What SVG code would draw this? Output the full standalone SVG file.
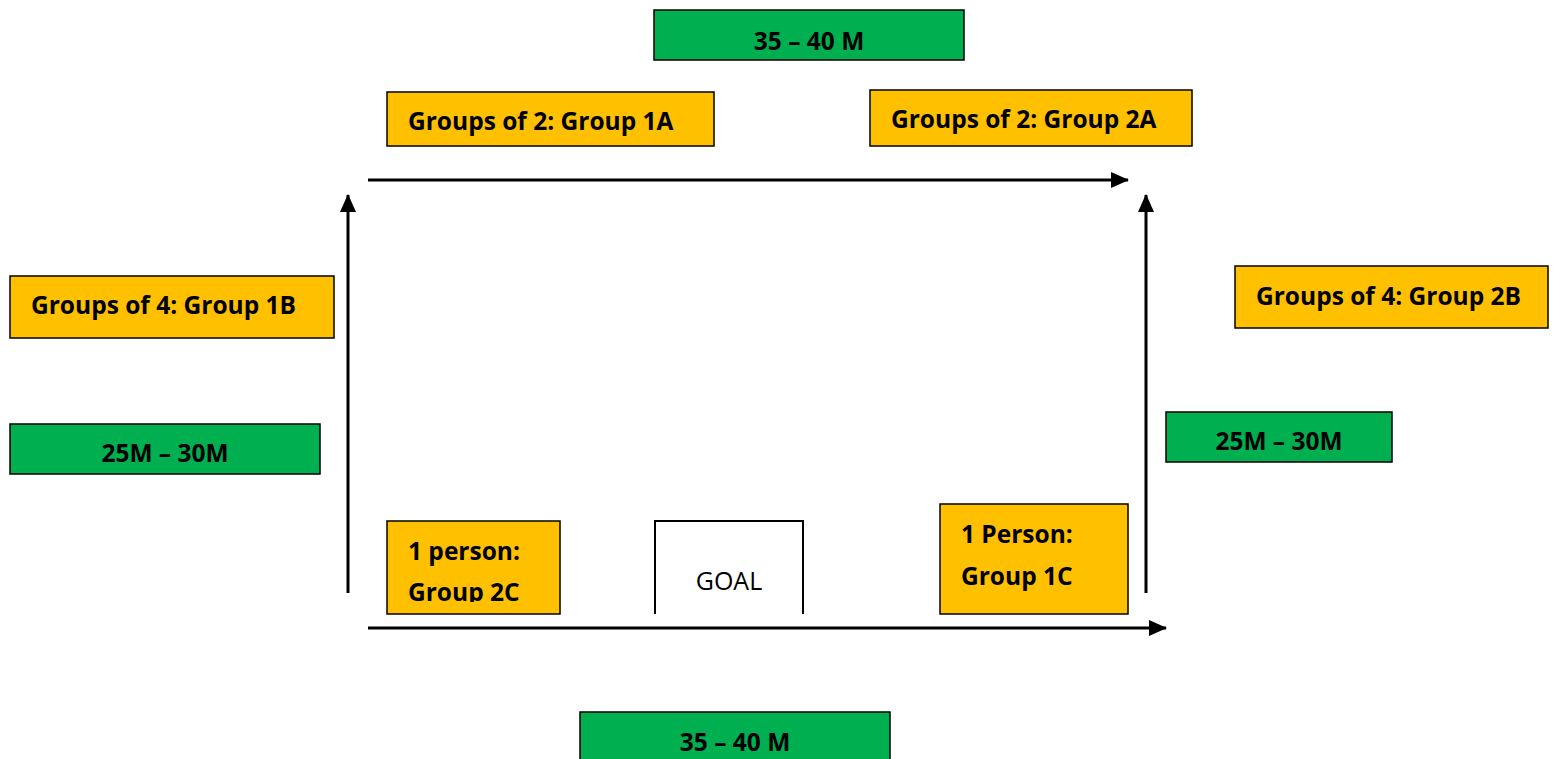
<svg xmlns="http://www.w3.org/2000/svg" width="1554" height="759" viewBox="0 0 1554 759">
<defs>
<style>
.y{fill:#FFC000;stroke:#000;stroke-width:1.5}
.g{fill:#00B050;stroke:#000;stroke-width:1.5}
.t{font-family:"Open Sans","Liberation Sans",sans-serif;font-weight:bold;font-size:24.5px;fill:#000}
.c{text-anchor:middle}
.ln{stroke:#000;stroke-width:3;fill:none}
</style>
<marker id="ah2" markerWidth="18" markerHeight="16" refX="17" refY="8" orient="auto" markerUnits="userSpaceOnUse" viewBox="0 0 18 16">
<path d="M0,0 L18,8 L0,16 Z" fill="#000"/>
</marker>
<clipPath id="c2c"><rect x="387" y="521" width="173" height="81"/></clipPath>
</defs>
<rect width="1554" height="759" fill="#fff"/>
<g id="connectors">
<line class="ln" x1="368" y1="180" x2="1128" y2="180" marker-end="url(#ah2)"/>
<line class="ln" x1="368" y1="628" x2="1166" y2="628" marker-end="url(#ah2)"/>
<line class="ln" x1="348" y1="593" x2="348" y2="195" marker-end="url(#ah2)"/>
<line class="ln" x1="1146" y1="593" x2="1146" y2="195" marker-end="url(#ah2)"/>
</g>
<g id="dist-top"><rect class="g" x="654" y="10" width="310" height="50"/><text class="t c" x="809" y="50">35 – 40 M</text></g>
<g id="group-1a"><rect class="y" x="387" y="92" width="327" height="54"/><text class="t" x="408" y="130">Groups of 2: Group 1A</text></g>
<g id="group-2a"><rect class="y" x="870" y="90" width="322" height="56"/><text class="t" x="891" y="128">Groups of 2: Group 2A</text></g>
<g id="group-1b"><rect class="y" x="10" y="276" width="324" height="62"/><text class="t" x="31" y="314">Groups of 4: Group 1B</text></g>
<g id="group-2b"><rect class="y" x="1235" y="266" width="313" height="62"/><text class="t" x="1256" y="305">Groups of 4: Group 2B</text></g>
<g id="dist-left"><rect class="g" x="10" y="424" width="310" height="50"/><text class="t c" x="165" y="462">25M – 30M</text></g>
<g id="dist-right"><rect class="g" x="1166" y="412" width="226" height="50"/><text class="t c" x="1279" y="450">25M – 30M</text></g>
<g id="group-2c"><rect class="y" x="387" y="521" width="173" height="93"/><g clip-path="url(#c2c)"><text class="t" x="408" y="560">1 person:</text><text class="t" x="408" y="601">Group 2C</text></g></g>
<g id="goal"><path d="M655,614 V521 H803 V614" fill="none" stroke="#000" stroke-width="2"/><text x="729" y="590" text-anchor="middle" font-family="Open Sans, Liberation Sans, sans-serif" font-size="25">GOAL</text></g>
<g id="group-1c"><rect class="y" x="940" y="504" width="188" height="110"/><text class="t" x="961" y="543">1 Person:</text><text class="t" x="961" y="585">Group 1C</text></g>
<g id="dist-bottom"><rect class="g" x="580" y="712" width="310" height="60"/><text class="t c" x="735" y="751">35 – 40 M</text></g>
</svg>
